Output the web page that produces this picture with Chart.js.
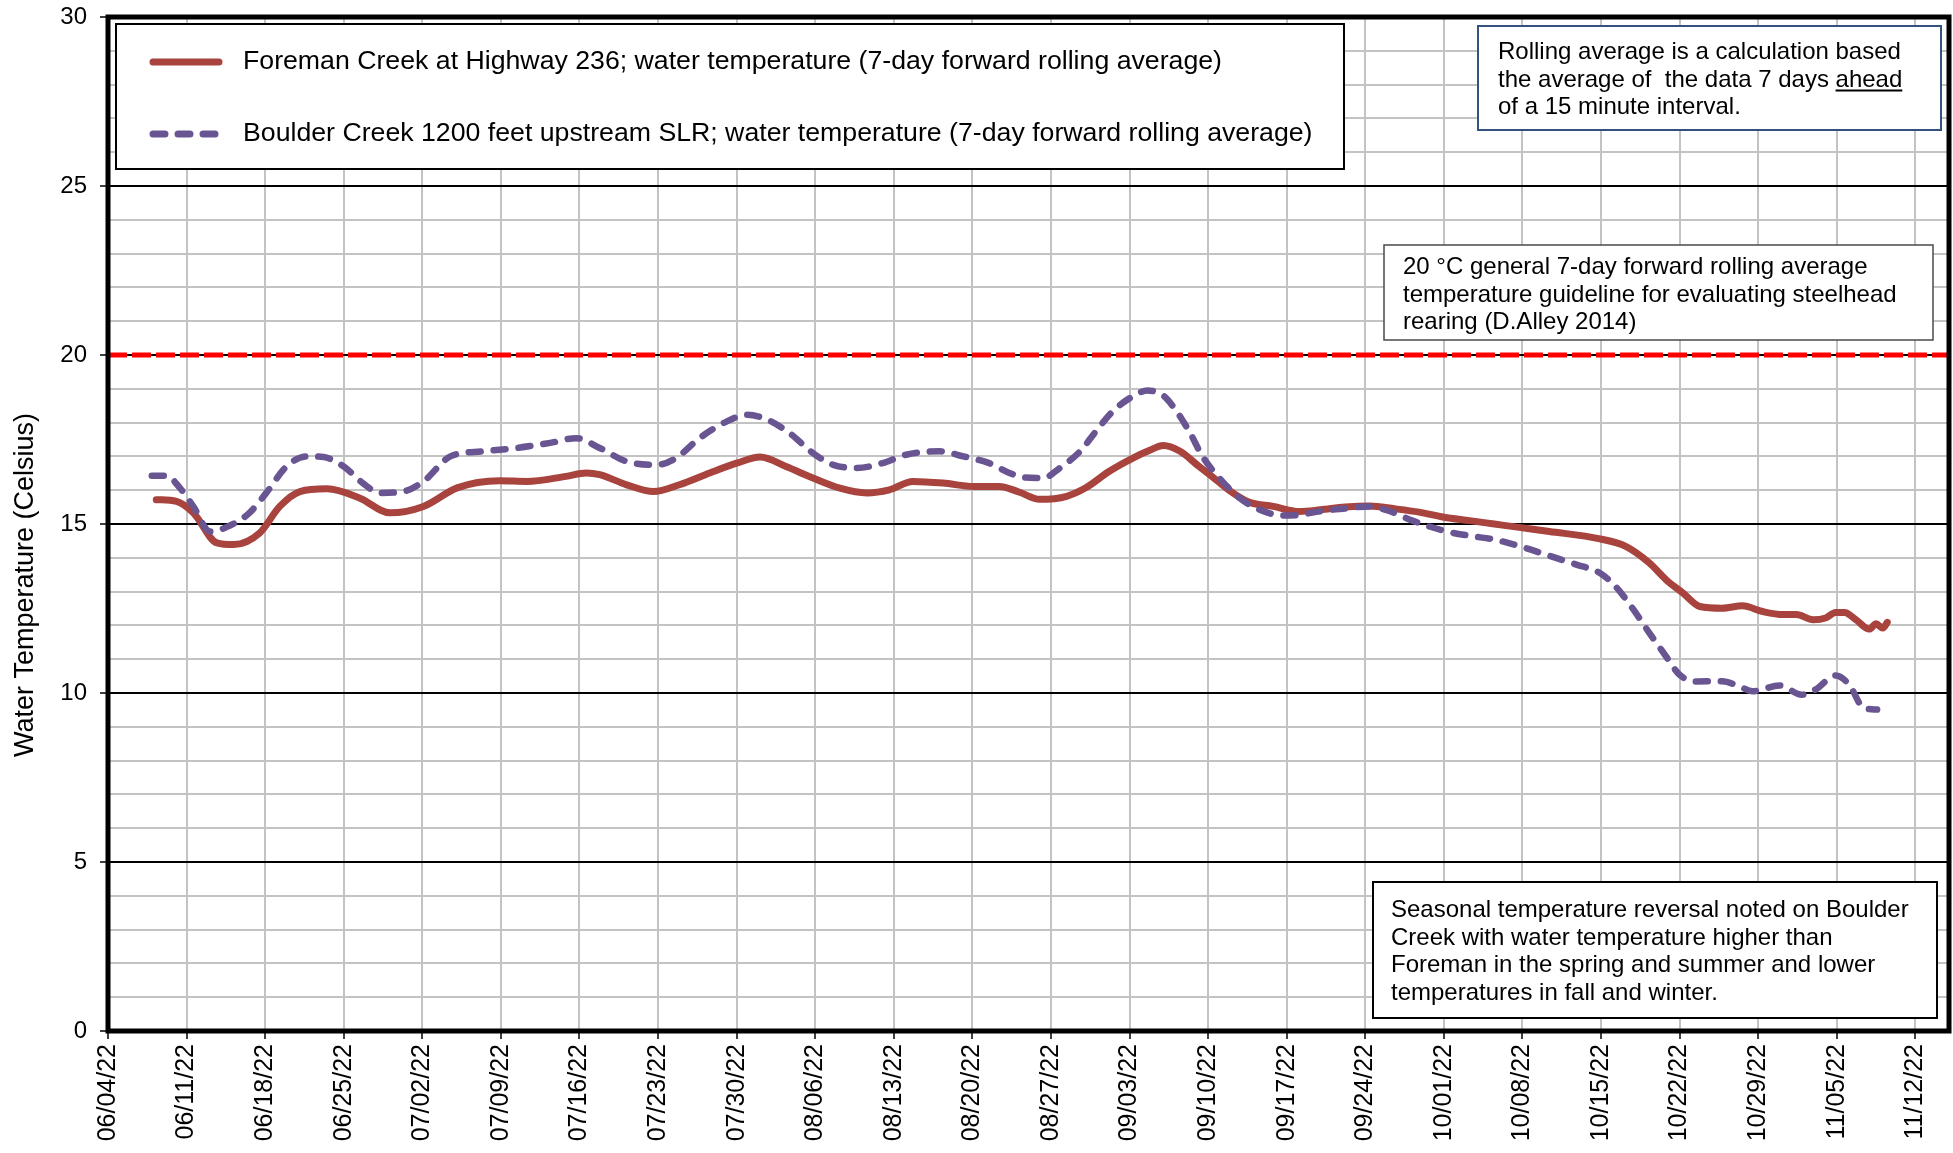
<!DOCTYPE html>
<html>
<head>
<meta charset="utf-8">
<title>Foreman Creek and Boulder Creek water temperature</title>
<script src="https://cdn.jsdelivr.net/npm/chart.js@4.4.1/dist/chart.umd.min.js"></script>
<style>
  html, body { margin: 0; padding: 0; background: #ffffff; }
  #wrap { width: 1953px; height: 1153px; }
</style>
</head>
<body>
<div id="wrap"><canvas id="chart" width="1953" height="1153"></canvas></div>
<script>
// Weekly date ticks (x values are days counted from 06/04/22)
const weekLabels = ['06/04/22','06/11/22','06/18/22','06/25/22','07/02/22','07/09/22','07/16/22','07/23/22',
  '07/30/22','08/06/22','08/13/22','08/20/22','08/27/22','09/03/22','09/10/22','09/17/22','09/24/22',
  '10/01/22','10/08/22','10/15/22','10/22/22','10/29/22','11/05/22','11/12/22'];
const xMaxDay = 164;

// Foreman Creek at Highway 236, 7-day forward rolling average (°C)
const foremanDays = [4.3,6.1,7.6,9.7,11.2,13.5,15.3,17.1,19.5,22.4,25.1,28.1,31.1,34.9,37.3,40.8,42.6,43.8,46.2,48.6,
  50.9,53.6,56.0,58.1,60.4,62.8,65.2,67.6,69.6,71.7,74.4,77.1,79.4,81.2,83.0,85.4,87.1,89.2,91.3,92.8,
  94.0,95.5,97.2,98.7,100.2,101.7,103.8,106.1,108.0,110.2,112.4,114.6,116.8,119.0,121.3,123.5,125.7,128.4,132.9,135.2,
  137.3,138.8,140.3,141.8,143.8,145.6,147.4,149.2,150.4,151.9,153.0,153.9,154.7,155.7,156.9,157.5,158.1,158.5];
const foremanTemp = [15.72,15.67,15.33,14.44,14.39,14.73,15.52,15.96,16.04,15.77,15.33,15.52,16.07,16.28,16.26,16.41,16.51,16.46,16.16,15.96,
  16.16,16.51,16.80,16.98,16.70,16.36,16.06,15.92,16.01,16.26,16.21,16.11,16.11,15.94,15.73,15.82,16.07,16.56,16.95,17.18,
  17.32,17.15,16.70,16.31,15.92,15.64,15.52,15.37,15.42,15.50,15.53,15.45,15.35,15.20,15.10,15.00,14.90,14.78,14.56,14.34,
  13.85,13.35,12.96,12.56,12.51,12.58,12.41,12.32,12.32,12.17,12.22,12.38,12.38,12.17,11.89,12.05,11.92,12.09];

// Boulder Creek 1200 feet upstream SLR, 7-day forward rolling average (°C)
const boulderDays = [3.9,5.2,6.4,7.6,9.1,11.2,12.6,14.1,15.9,17.7,19.2,21.0,22.7,24.2,26.3,28.1,30.5,33.4,36.4,39.4,
  41.7,43.8,46.2,48.9,50.6,52.7,55.1,56.9,58.7,60.7,62.8,64.6,66.7,69.0,71.1,74.1,76.2,78.5,80.3,81.5,
  83.3,84.8,86.6,88.0,89.5,91.3,92.6,94.0,95.2,96.4,97.5,99.0,100.8,102.6,104.7,106.1,108.0,110.2,112.4,114.0,
  116.2,119.0,121.3,123.5,125.7,128.4,130.8,132.9,134.3,135.8,137.3,138.8,140.0,141.5,143.8,145.3,146.5,148.9,150.9,152.1,
  153.9,155.1,156.4,157.6];
const boulderTemp = [16.43,16.43,16.07,15.52,14.78,15.01,15.33,15.92,16.70,17.00,16.98,16.70,16.21,15.92,15.96,16.26,17.00,17.15,17.25,17.40,
  17.54,17.25,16.85,16.75,16.95,17.54,18.03,18.23,18.09,17.69,17.10,16.75,16.66,16.80,17.05,17.15,17.00,16.80,16.51,16.38,
  16.36,16.66,17.15,17.74,18.33,18.78,18.95,18.80,18.33,17.69,17.00,16.36,15.77,15.42,15.25,15.27,15.38,15.46,15.52,15.40,
  15.10,14.80,14.65,14.54,14.35,14.06,13.80,13.55,13.15,12.51,11.78,11.08,10.54,10.34,10.35,10.20,10.05,10.22,9.95,10.10,
  10.52,10.25,9.56,9.51];

// Steelhead rearing guideline (°C)
const guidelineTemp = 20;

const seriesNames = [
  'Foreman Creek at Highway 236; water temperature (7-day forward rolling average)',
  'Boulder Creek 1200 feet upstream SLR; water temperature (7-day forward rolling average)'
];

const noteRolling = ['Rolling average is a calculation based', 'the average of  the data 7 days ', 'of a 15 minute interval.'];
const noteGuideline = ['20 \u00B0C general 7-day forward rolling average', 'temperature guideline for evaluating steelhead', 'rearing (D.Alley 2014)'];
const noteSeasonal = ['Seasonal temperature reversal noted on Boulder', 'Creek with water temperature higher than',
  'Foreman in the spring and summer and lower', 'temperatures in fall and winter.'];

const FONT = "'Liberation Sans', Arial, sans-serif";
const RED = '#A8433E';
const PURPLE = '#6A5593';

const toPoints = (xs, ys) => xs.map((x, i) => ({ x: x, y: ys[i] }));

// Frame, axis title, legend and text notes drawn on top of the plot
const overlays = {
  id: 'overlays',
  afterDraw(chart) {
    const ctx = chart.ctx;
    const a = chart.chartArea;
    ctx.save();

    // heavy frame around the plot area
    ctx.strokeStyle = '#000';
    ctx.lineWidth = 5;
    ctx.strokeRect(a.left, a.top, a.right - a.left, a.bottom - a.top);

    // y axis title, centred on the figure height
    ctx.save();
    ctx.translate(26, 585);
    ctx.rotate(-Math.PI / 2);
    ctx.font = '27px ' + FONT;
    ctx.fillStyle = '#000';
    ctx.textAlign = 'center';
    ctx.textBaseline = 'middle';
    ctx.fillText('Water Temperature (Celsius)', 0, 0);
    ctx.restore();

    // legend
    const ds = chart.data.datasets;
    ctx.fillStyle = '#fff';
    ctx.fillRect(116, 24, 1228, 145);
    ctx.strokeStyle = '#000';
    ctx.lineWidth = 2;
    ctx.strokeRect(116, 24, 1228, 145);
    const rows = [62, 134];
    for (let i = 0; i < 2; i++) {
      const d = ds[i];
      ctx.save();
      ctx.strokeStyle = d.borderColor;
      ctx.lineWidth = 7;
      ctx.lineCap = 'round';
      ctx.setLineDash(d.borderDash || []);
      ctx.beginPath();
      ctx.moveTo(153, rows[i]);
      ctx.lineTo(219, rows[i]);
      ctx.stroke();
      ctx.restore();
      ctx.font = '26.7px ' + FONT;
      ctx.fillStyle = '#000';
      ctx.textAlign = 'left';
      ctx.textBaseline = 'middle';
      ctx.fillText(d.label, 243, rows[i]);
    }

    const box = (x, y, w, h, color, lw) => {
      ctx.fillStyle = '#fff';
      ctx.fillRect(x, y, w, h);
      ctx.strokeStyle = color;
      ctx.lineWidth = lw;
      ctx.strokeRect(x, y, w, h);
    };
    const lines = (arr, x, y0, step) => {
      ctx.font = '24px ' + FONT;
      ctx.fillStyle = '#000';
      ctx.textAlign = 'left';
      ctx.textBaseline = 'alphabetic';
      arr.forEach((t, i) => ctx.fillText(t, x, y0 + i * step));
    };

    // rolling-average note, with "ahead" underlined
    box(1478, 26, 463, 104, '#35527F', 2);
    lines(noteRolling, 1498, 59, 27.5);
    const w2 = ctx.measureText(noteRolling[1]).width;
    const wAhead = ctx.measureText('ahead').width;
    ctx.fillText('ahead', 1498 + w2, 59 + 27.5);
    ctx.fillRect(1498 + w2, 59 + 27.5 + 3, wAhead, 2);

    // guideline note
    box(1384, 245, 549, 95, '#4A4A4A', 1.5);
    lines(noteGuideline, 1403, 274, 27.5);

    // seasonal reversal note
    box(1373, 882, 564, 136, '#000', 2);
    lines(noteSeasonal, 1391, 917, 27.5);

    ctx.restore();
  }
};

new Chart(document.getElementById('chart'), {
  type: 'line',
  data: {
    datasets: [
      {
        label: seriesNames[0],
        data: toPoints(foremanDays, foremanTemp),
        borderColor: RED,
        borderWidth: 7,
        pointRadius: 0,
        cubicInterpolationMode: 'monotone',
        borderCapStyle: 'round',
        borderJoinStyle: 'round',
        fill: false,
        order: 1
      },
      {
        label: seriesNames[1],
        data: toPoints(boulderDays, boulderTemp),
        borderColor: PURPLE,
        borderWidth: 6.5,
        borderDash: [12, 13],
        pointRadius: 0,
        cubicInterpolationMode: 'monotone',
        borderCapStyle: 'round',
        borderJoinStyle: 'round',
        fill: false,
        order: 0
      },
      {
        label: 'guideline',
        data: [{ x: 0, y: guidelineTemp }, { x: xMaxDay, y: guidelineTemp }],
        borderColor: '#FF0000',
        borderWidth: 5,
        borderDash: [19, 5],
        pointRadius: 0,
        fill: false,
        order: 2
      }
    ]
  },
  options: {
    responsive: false,
    animation: false,
    devicePixelRatio: 1,
    layout: { padding: { left: 0, right: 4, top: 17, bottom: 0 } },
    plugins: { legend: { display: false }, tooltip: { enabled: false } },
    scales: {
      x: {
        type: 'linear',
        min: 0,
        max: xMaxDay,
        afterBuildTicks: (s) => { s.ticks = weekLabels.map((_, i) => ({ value: i * 7 })); },
        afterFit: (s) => { s.height = 122; s.paddingLeft = 0; s.paddingRight = 0; },
        ticks: {
          autoSkip: false,
          minRotation: 90,
          maxRotation: 90,
          padding: 5,
          color: '#000',
          font: { family: FONT, size: 25 },
          callback: (v) => weekLabels[Math.round(v / 7)] || ''
        },
        grid: { color: '#C3C3C3', lineWidth: 2, tickLength: 8, tickColor: '#000', tickWidth: 1.5 },
        border: { display: false }
      },
      y: {
        min: 0,
        max: 30,
        afterBuildTicks: (s) => {
          const t = [];
          for (let v = 0; v <= 30; v++) t.push({ value: v });
          s.ticks = t;
        },
        afterFit: (s) => { s.width = 108; s.paddingTop = 0; s.paddingBottom = 0; },
        ticks: {
          autoSkip: false,
          padding: 13,
          color: '#000',
          font: { family: FONT, size: 24 },
          callback: (v) => (v % 5 === 0 ? String(v) : '')
        },
        grid: {
          color: (c) => (c.tick && c.tick.value % 5 === 0 ? '#000' : '#C3C3C3'),
          lineWidth: 2,
          tickLength: 8,
          tickColor: (c) => (c.tick && c.tick.value % 5 === 0 ? '#000' : 'rgba(0,0,0,0)'),
          tickWidth: 1.5
        },
        border: { display: false }
      }
    }
  },
  plugins: [overlays]
});
</script>
</body>
</html>
